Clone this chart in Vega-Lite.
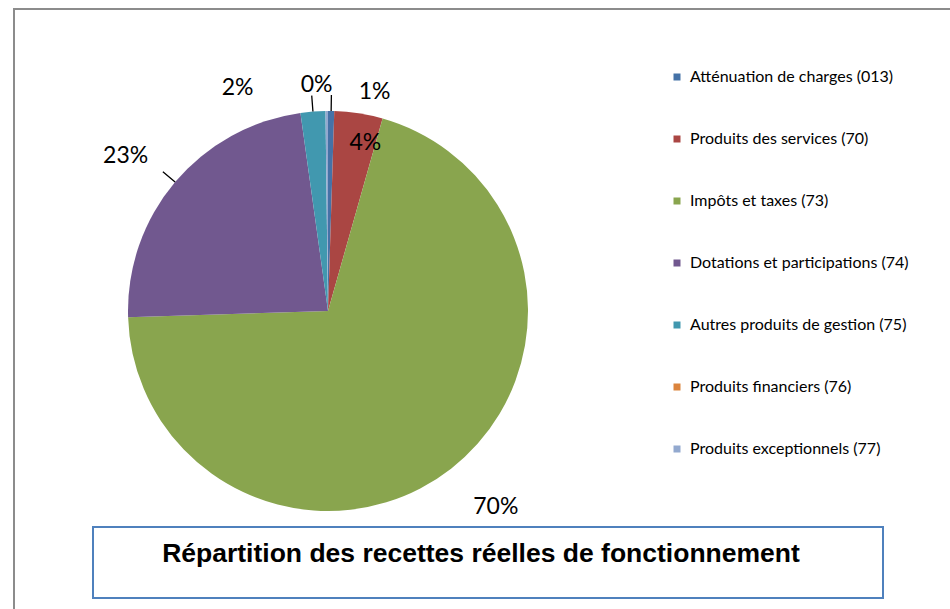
{
  "$schema": "https://vega.github.io/schema/vega-lite/v6.json",
  "background": "white",
  "padding": {"left": 14, "top": 9, "right": 0, "bottom": 0},
  "width": 946,
  "height": 604,
  "view": {"stroke": "#8c8c8c", "strokeWidth": 2},
  "config": {
    "font": "Lato",
    "text": {"color": "black"}
  },
  "data": {
    "values": [
      {"poste": "Atténuation de charges (013)", "valeur": 0.5, "etiquette": "1%", "rang": 1},
      {"poste": "Produits des services (70)", "valeur": 3.9, "etiquette": "4%", "rang": 2},
      {"poste": "Impôts et taxes (73)", "valeur": 70.1, "etiquette": "70%", "rang": 3},
      {"poste": "Dotations et participations (74)", "valeur": 23.3, "etiquette": "23%", "rang": 4},
      {"poste": "Autres produits de gestion (75)", "valeur": 2.0, "etiquette": "2%", "rang": 5},
      {"poste": "Produits financiers (76)", "valeur": 0.0, "etiquette": "0%", "rang": 6},
      {"poste": "Produits exceptionnels (77)", "valeur": 0.2, "etiquette": "0%", "rang": 7}
    ]
  },
  "encoding": {
    "theta": {"field": "valeur", "type": "quantitative", "stack": true},
    "order": {"field": "rang", "type": "ordinal"}
  },
  "resolve": {"scale": {"color": "independent"}, "legend": {"color": "independent"}},
  "layer": [
    {
      "mark": {"type": "arc", "radius": 200, "xOffset": -159},
      "encoding": {
        "color": {
          "field": "poste",
          "type": "nominal",
          "sort": {"field": "rang"},
          "scale": {"range": ["#4572A7", "#AA4643", "#89A54E", "#71588F", "#4198AF", "#DB843D", "#93A9CF"]},
          "legend": {
            "title": null,
            "orient": "none",
            "legendX": 655,
            "legendY": 60,
            "padding": 0,
            "symbolType": "square",
            "symbolSize": 49,
            "symbolStrokeWidth": 0,
            "labelFont": "Lato",
            "labelFontSize": 16,
            "labelColor": "black",
            "labelOffset": 5,
            "labelLimit": 400,
            "rowPadding": 46
          }
        }
      }
    },
    {
      "mark": {"type": "arc", "radius": 216, "radius2": 200, "padAngle": 1.4, "filled": false, "stroke": "black", "strokeWidth": 1.3, "xOffset": -159},
      "encoding": {
        "opacity": {"condition": {"test": "datum.rang == 1 || datum.rang == 4 || datum.rang == 5", "value": 1}, "value": 0}
      }
    },
    {
      "mark": {"type": "text", "radius": 232, "xOffset": -159, "dx": 43, "dy": 13, "fontSize": 23, "font": "Lato"},
      "encoding": {"text": {"condition": {"test": "datum.rang == 1", "field": "etiquette"}, "value": ""}}
    },
    {
      "mark": {"type": "text", "radius": 172, "xOffset": -159, "dx": 11, "dy": 2, "fontSize": 23, "font": "Lato"},
      "encoding": {"text": {"condition": {"test": "datum.rang == 2", "field": "etiquette"}, "value": ""}}
    },
    {
      "mark": {"type": "text", "radius": 232, "xOffset": -159, "dx": 25, "dy": 13, "fontSize": 23, "font": "Lato"},
      "encoding": {"text": {"condition": {"test": "datum.rang == 3", "field": "etiquette"}, "value": ""}}
    },
    {
      "mark": {"type": "text", "radius": 232, "xOffset": -159, "dx": -25, "dy": -5, "fontSize": 23, "font": "Lato"},
      "encoding": {"text": {"condition": {"test": "datum.rang == 4", "field": "etiquette"}, "value": ""}}
    },
    {
      "mark": {"type": "text", "radius": 232, "xOffset": -159, "dx": -73, "dy": 8, "fontSize": 23, "font": "Lato"},
      "encoding": {"text": {"condition": {"test": "datum.rang == 5", "field": "etiquette"}, "value": ""}}
    },
    {
      "mark": {"type": "text", "radius": 232, "xOffset": -159, "dx": -10, "dy": 6, "fontSize": 23, "font": "Lato"},
      "encoding": {"text": {"condition": {"test": "datum.rang == 7", "field": "etiquette"}, "value": ""}}
    },
    {
      "mark": {"type": "text", "text": ""},
      "encoding": {
        "color": {
          "field": "valeur",
          "type": "quantitative",
          "scale": {"range": ["white", "white"]},
          "legend": {
            "title": "Répartition des recettes réelles de fonctionnement",
            "orient": "none",
            "legendX": 79,
            "legendY": 518,
            "direction": "horizontal",
            "gradientLength": 762,
            "gradientThickness": 15,
            "gradientStrokeWidth": 0,
            "labelExpr": "''",
            "labelFontSize": 1,
            "labelOpacity": 0,
            "labelOffset": 0,
            "titleFont": "Liberation Sans",
            "titleFontWeight": "bold",
            "titleFontSize": 26.5,
            "titleColor": "black",
            "titleAnchor": "middle",
            "titleLimit": 900,
            "titlePadding": 0,
            "padding": 14,
            "strokeColor": "#4F81BD",
            "fillColor": "white",
            "encode": {"legend": {"update": {"stroke": {"value": "#4F81BD"}, "strokeWidth": {"value": 2}}}}
          }
        }
      }
    }
  ]
}
